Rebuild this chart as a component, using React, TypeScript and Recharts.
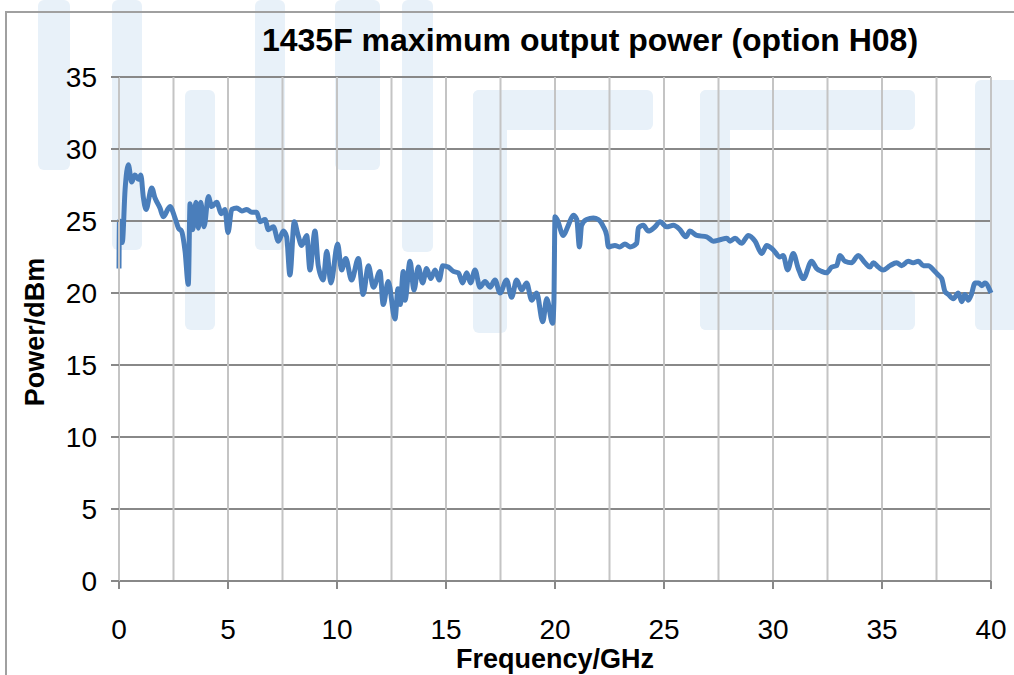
import React from 'react';
import { LineChart, Line, XAxis, YAxis, CartesianGrid } from 'recharts';

// Frequency points (GHz)
const freqGHz = [
  0.0, 0.02, 0.08, 0.15, 0.28, 0.43, 0.58, 0.73, 0.89, 1.0,
  1.12, 1.24, 1.5, 1.65, 1.88, 2.03, 2.34, 2.57, 2.73, 2.87,
  3.03, 3.18, 3.26, 3.38, 3.53, 3.64, 3.75, 3.9, 4.1, 4.25,
  4.48, 4.7, 4.86, 5.0, 5.17, 5.4, 5.63, 5.86, 6.09, 6.32,
  6.47, 6.7, 6.85, 7.08, 7.31, 7.54, 7.69, 7.84, 8.04, 8.2,
  8.38, 8.61, 8.76, 8.99, 9.14, 9.37, 9.53, 9.72, 10.03, 10.21,
  10.4, 10.67, 10.98, 11.2, 11.44, 11.67, 11.97, 12.12, 12.35, 12.66,
  12.8, 12.9, 13.04, 13.12, 13.35, 13.53, 13.73, 13.93, 14.11, 14.3,
  14.5, 14.69, 14.85, 15.1, 15.34, 15.57, 15.76, 15.95, 16.13, 16.33,
  16.56, 16.79, 17.02, 17.25, 17.48, 17.78, 18.01, 18.24, 18.47, 18.7,
  18.93, 19.16, 19.44, 19.62, 19.89, 19.95, 20.0, 20.1, 20.38, 20.61,
  20.84, 21.0, 21.12, 21.22, 21.45, 21.76, 21.99, 22.22, 22.37, 22.45,
  22.75, 22.98, 23.21, 23.44, 23.75, 23.82, 24.05, 24.28, 24.59, 24.82,
  25.12, 25.43, 25.73, 26.0, 26.19, 26.5, 26.96, 27.26, 27.57, 27.88,
  28.03, 28.26, 28.56, 28.87, 29.18, 29.48, 29.71, 30.01, 30.32, 30.47,
  30.67, 30.93, 31.16, 31.39, 31.77, 32.0, 32.23, 32.46, 32.69, 32.92,
  33.07, 33.3, 33.6, 33.91, 34.22, 34.45, 34.6, 34.83, 35.06, 35.37,
  35.67, 35.9, 36.2, 36.43, 36.67, 36.9, 37.13, 37.36, 37.58, 37.74,
  37.89, 38.04, 38.27, 38.5, 38.66, 38.8, 38.96, 39.1, 39.27, 39.43,
  39.58, 39.72, 40.0,
];

// Maximum output power (dBm)
const powerDbm = [
  21.7, 25.0, 24.8, 23.5, 27.2, 28.9, 27.7, 28.2, 27.9, 28.2,
  26.6, 25.8, 27.3, 26.6, 25.9, 25.3, 26.0, 25.2, 24.5, 24.3,
  22.9, 20.6, 26.2, 24.4, 26.3, 24.5, 26.3, 24.6, 26.7, 26.0,
  26.3, 25.5, 25.8, 24.2, 25.8, 25.9, 25.7, 25.8, 25.6, 25.6,
  24.95, 25.1, 24.4, 24.6, 23.6, 24.3, 23.9, 21.25, 24.95, 24.1,
  23.3, 24.0, 21.6, 24.3, 21.9, 20.9, 22.9, 20.7, 23.4, 21.6,
  22.4, 20.9, 22.4, 19.9, 21.9, 20.4, 21.5, 19.2, 20.8, 18.2,
  20.3, 19.2, 21.5, 19.5, 22.2, 20.2, 21.8, 20.7, 21.7, 21.0,
  21.6, 20.9, 21.9, 21.8, 21.5, 21.4, 20.7, 21.4, 20.7, 21.6,
  20.4, 20.8, 20.4, 20.9, 20.0, 20.9, 19.7, 20.9, 20.2, 20.7,
  19.5, 20.0, 18.0, 19.6, 17.9, 19.4, 25.3, 25.1, 24.0, 24.7,
  25.4, 25.1, 23.2, 24.7, 25.1, 25.2, 25.1, 24.6, 24.0, 23.2,
  23.3, 23.2, 23.4, 23.2, 23.45, 24.5, 24.7, 24.3, 24.6, 24.95,
  24.6, 24.7, 24.4, 23.9, 24.3, 24.0, 23.9, 23.6, 23.7, 23.8,
  23.6, 23.8, 23.45, 24.0, 23.6, 22.75, 23.3, 23.0, 22.5, 22.6,
  21.6, 22.75, 21.7, 21.0, 22.2, 21.7, 21.5, 21.4, 21.8, 21.9,
  22.6, 22.2, 22.1, 22.6, 22.1, 21.8, 22.1, 21.8, 21.6, 21.9,
  22.1, 21.9, 22.2, 22.1, 22.2, 21.9, 21.9, 21.6, 21.25, 21.0,
  20.1, 19.9, 19.6, 20.0, 19.4, 19.9, 19.5, 19.9, 20.7, 20.7,
  20.5, 20.7, 20.0,
];

const xTicks = [0, 5, 10, 15, 20, 25, 30, 35, 40];
const yTicks = [0, 5, 10, 15, 20, 25, 30, 35];
const xGridLines = [0, 2.5, 5, 7.5, 10, 12.5, 15, 17.5, 20, 22.5, 25, 27.5, 30, 32.5, 35, 37.5, 40];

const data = freqGHz.map((f, i) => ({ f, p: powerDbm[i] }));

const FONT = '"Liberation Sans", Arial, sans-serif';

// pale watermark blocks behind the plot
const watermark = [
  { left: 38, top: 0, width: 32, height: 170 },
  { left: 112, top: 0, width: 30, height: 250 },
  { left: 185, top: 90, width: 30, height: 240 },
  { left: 255, top: 0, width: 30, height: 250 },
  { left: 335, top: 0, width: 45, height: 170 },
  { left: 402, top: 0, width: 31, height: 252 },
  { left: 473, top: 90, width: 34, height: 243 },
  { left: 473, top: 90, width: 180, height: 40 },
  { left: 700, top: 90, width: 30, height: 240 },
  { left: 700, top: 90, width: 215, height: 40 },
  { left: 700, top: 290, width: 215, height: 40 },
  { left: 975, top: 80, width: 60, height: 250 },
];

const XTick = (props: any) => {
  const { x, y, payload } = props;
  return (
    <text x={x} y={y + 48} textAnchor="middle" fontSize={28} fontFamily={FONT} fill="#000">
      {payload.value}
    </text>
  );
};

const YTick = (props: any) => {
  const { x, y, payload } = props;
  return (
    <text x={x - 12} y={y + 10} textAnchor="end" fontSize={28} fontFamily={FONT} fill="#000">
      {payload.value}
    </text>
  );
};

export default function App() {
  return (
    <div style={{ position: 'absolute', left: 0, top: 0, width: 1014, height: 675, background: '#fff', overflow: 'hidden' }}>
      {watermark.map((w, i) => (
        <div key={i} style={{ position: 'absolute', ...w, background: '#e8f1f9', borderRadius: 6 }} />
      ))}
      <div style={{ position: 'absolute', left: 5, top: 11, width: 1020, height: 700, borderTop: '2px solid #a0a0a0', borderLeft: '2px solid #a0a0a0' }} />
      <div style={{ position: 'absolute', left: 0, width: 1180, top: 22, textAlign: 'center', fontFamily: FONT, fontWeight: 'bold', fontSize: 32, lineHeight: '36px', color: '#000' }}>
        1435F maximum output power (option H08)
      </div>
      <LineChart width={1014} height={675} data={data} margin={{ top: 77, right: 23, bottom: 0, left: 0 }} style={{ position: 'absolute', left: 0, top: 0 }}>
        <CartesianGrid vertical={false} stroke="#888" strokeWidth={2} />
        <CartesianGrid
          horizontal={false}
          stroke="#c4c4c4"
          strokeWidth={2}
          verticalCoordinatesGenerator={({ offset }: any) => xGridLines.map((v) => offset.left + (v / 40) * offset.width)}
        />
        <XAxis
          type="number"
          dataKey="f"
          domain={[0, 40]}
          ticks={xTicks}
          interval={0}
          height={94}
          tickSize={8}
          tickLine={{ stroke: '#888', strokeWidth: 2 }}
          axisLine={{ stroke: '#888', strokeWidth: 2 }}
          tick={<XTick />}
        />
        <YAxis
          type="number"
          domain={[0, 35]}
          ticks={yTicks}
          interval={0}
          width={119}
          tickSize={8}
          tickLine={{ stroke: '#888', strokeWidth: 2 }}
          axisLine={{ stroke: '#c4c4c4', strokeWidth: 2 }}
          tick={<YTick />}
        />
        <Line dataKey="p" type="monotone" stroke="#4a7ebb" strokeWidth={5} dot={false} isAnimationActive={false} />
      </LineChart>
      <div style={{ position: 'absolute', left: 0, width: 1110, top: 644, textAlign: 'center', fontFamily: FONT, fontWeight: 'bold', fontSize: 27, lineHeight: '30px', color: '#000' }}>
        Frequency/GHz
      </div>
      <div style={{ position: 'absolute', left: 35, top: 332, width: 0, height: 0 }}>
        <div style={{ position: 'absolute', left: -150, top: -15, width: 300, textAlign: 'center', transform: 'rotate(-90deg)', fontFamily: FONT, fontWeight: 'bold', fontSize: 27, lineHeight: '30px', color: '#000' }}>
          Power/dBm
        </div>
      </div>
    </div>
  );
}
